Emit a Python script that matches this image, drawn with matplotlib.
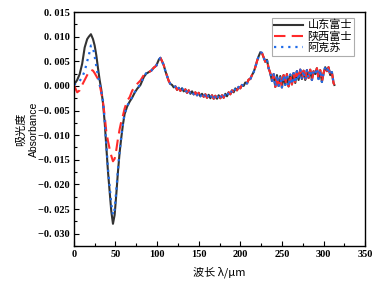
import matplotlib
matplotlib.use("Agg")
import matplotlib.pyplot as plt
from matplotlib.ticker import MultipleLocator, FixedLocator

plt.rcParams['font.family'] = ['Liberation Serif', 'Noto Sans CJK SC', 'DejaVu Sans']

# ---- data ----
head_x = [0, 4, 7, 10, 13, 16, 18, 20.5, 23, 25, 27, 29, 31, 33, 35, 37, 39, 41, 43, 45, 47, 49,
          51, 53, 55, 57, 59, 61, 64, 67, 70, 73, 76, 80, 84, 87]
shandong_head = [0.0002, 0.0012, 0.0024, 0.0045, 0.0078, 0.0095, 0.0100, 0.0105, 0.0095, 0.0082, 0.0062,
                 0.0036, 0.0012, -0.0008, -0.0035, -0.0073, -0.0125, -0.0174, -0.0215, -0.0255, -0.0280,
                 -0.0262, -0.0220, -0.0174, -0.0135, -0.0105, -0.0078, -0.0057, -0.0042, -0.0032, -0.0024,
                 -0.0014, -0.0006, 0.0002, 0.0018, 0.0025]
shaanxi_head = [0.0002, -0.0013, -0.0009, 0.0002, 0.0012, 0.0022, 0.0028, 0.0033, 0.0031, 0.0026, 0.0020,
                0.0014, 0.0002, -0.0014, -0.0033, -0.0060, -0.0093, -0.0112, -0.0128, -0.0142, -0.0153,
                -0.0148, -0.0130, -0.0107, -0.0088, -0.0072, -0.0060, -0.0046, -0.0030, -0.0023, -0.0010,
                -0.0002, 0.0004, 0.0011, 0.0022, 0.0026]
akesu_head = [0.0002, 0.0006, 0.0010, 0.0018, 0.0030, 0.0050, 0.0062, 0.0082, 0.0078, 0.0060, 0.0040,
              0.0020, 0.0004, -0.0012, -0.0030, -0.0070, -0.0120, -0.0168, -0.0205, -0.0240, -0.0262,
              -0.0250, -0.0212, -0.0170, -0.0132, -0.0103, -0.0077, -0.0056, -0.0041, -0.0031, -0.0023,
              -0.0013, -0.0005, 0.0003, 0.0019, 0.0026]

tail_x = [90, 93, 96, 99, 102, 104, 106, 108, 110, 112, 114, 116, 118, 120, 122, 124, 126, 128, 130,
          132, 134, 136, 138, 140, 142, 144, 146, 148, 150, 152, 154, 156, 158, 160, 162, 164, 166,
          168, 170, 172, 174, 176, 178, 180, 182, 184, 186, 188, 190, 192, 194, 196, 198, 200, 202,
          204, 206, 208, 210, 212, 214, 216, 218, 220, 222, 224, 226, 228, 230, 232, 234, 236, 238,
          240, 242, 244, 246, 248, 250, 252, 254, 256, 258, 260, 262, 264, 266, 268, 270, 272, 274,
          276, 278, 280, 282, 284, 286, 288, 290, 292, 294, 296, 298, 300, 302, 304, 306, 308, 310,
          312, 313]
tail_y = [0.0028, 0.0031, 0.0037, 0.0041, 0.0053, 0.0057, 0.0050, 0.0042, 0.0030, 0.0020, 0.0010,
          0.0004, 0.0002, -0.0003, -0.0001, -0.0008, -0.0004, -0.0010, -0.0005, -0.0011, -0.0007,
          -0.0014, -0.0009, -0.0016, -0.0011, -0.0017, -0.0013, -0.0019, -0.0014, -0.0021, -0.0016,
          -0.0022, -0.0017, -0.0024, -0.0018, -0.0025, -0.0019, -0.0026, -0.0020, -0.0026, -0.0019,
          -0.0025, -0.0019, -0.0024, -0.0016, -0.0021, -0.0013, -0.0017, -0.0009, -0.0013, -0.0005,
          -0.0009, -0.0002, -0.0005, 0.0002, 0.0000, 0.0007, 0.0005, 0.0013, 0.0014, 0.0022, 0.0028,
          0.0038, 0.0050, 0.0060, 0.0068, 0.0067, 0.0058, 0.0049, 0.0053, 0.0036, 0.0026, 0.0010,
          0.0024, -0.0002, 0.0022, 0.0000, 0.0020, -0.0003, 0.0022, 0.0002, 0.0024, -0.0001, 0.0023,
          0.0003, 0.0026, 0.0006, 0.0030, 0.0012, 0.0033, 0.0014, 0.0031, 0.0012, 0.0032, 0.0016,
          0.0033, 0.0012, 0.0030, 0.0024, 0.0036, 0.0014, 0.0032, 0.0008, 0.0026, 0.0038, 0.0030,
          0.0038, 0.0022, 0.0028, 0.0006, 0.0002]

labels = ['山东富士', '陕西富士', '阿克苏']

x_all = head_x + tail_x
series = [shandong_head + tail_y, shaanxi_head + tail_y, akesu_head + tail_y]

fig = plt.figure(figsize=(3.73, 2.87), dpi=100)
ax = fig.add_axes([0.198, 0.143, 0.781, 0.815])

ax.plot(x_all, series[0], color='#333333', lw=1.5, ls='-', label=labels[0])
ax.plot(x_all, series[1], color='#ff2a2a', lw=1.5, ls=(0, (5.5, 3)), label=labels[1])
ax.plot(x_all, series[2], color='#1f6be8', lw=1.6, ls=(0, (1, 2.2)), label=labels[2])

ax.set_xlim(0, 350)
ax.set_ylim(-0.0325, 0.015)
ax.xaxis.set_major_locator(MultipleLocator(50))
ax.xaxis.set_minor_locator(MultipleLocator(25))
yt = [0.015, 0.010, 0.005, 0.0, -0.005, -0.010, -0.015, -0.020, -0.025, -0.030]
ax.yaxis.set_major_locator(FixedLocator(yt))
ax.yaxis.set_minor_locator(MultipleLocator(0.0025))
ax.set_yticklabels([('\u2212' if v < 0 else '') + '0. ' + ('%.3f' % abs(v))[2:] for v in yt])
ax.tick_params(which='both', direction='in', top=False, right=False)
ax.tick_params(which='major', length=3.5, width=0.8, labelsize=7.5, pad=3)
ax.tick_params(which='minor', length=2, width=0.8)
for lab in ax.get_xticklabels() + ax.get_yticklabels():
    lab.set_fontweight('bold')
for s in ax.spines.values():
    s.set_linewidth(1.0)

ax.set_xlabel('波长 λ/μm', fontsize=8, family=['Noto Sans CJK SC', 'DejaVu Serif'], labelpad=5)
fig.text(0.055, 0.55, '吸光度', rotation=90, fontsize=8, family=['Noto Sans CJK SC'],
         ha='center', va='center')
fig.text(0.091, 0.55, 'Absorbance', rotation=90, fontsize=7.5, family=['Liberation Sans'],
         ha='center', va='center')

leg = ax.legend(loc='upper right', bbox_to_anchor=(0.97, 0.985),
                prop={'family': ['Noto Sans CJK SC'], 'size': 8}, frameon=True, fancybox=False,
                handlelength=2.6, borderpad=0.2, labelspacing=0.1, handletextpad=0.4,
                borderaxespad=0.2)
leg.get_frame().set_edgecolor('#999999')
leg.get_frame().set_linewidth(0.8)

fig.savefig('out.png', dpi=100)
